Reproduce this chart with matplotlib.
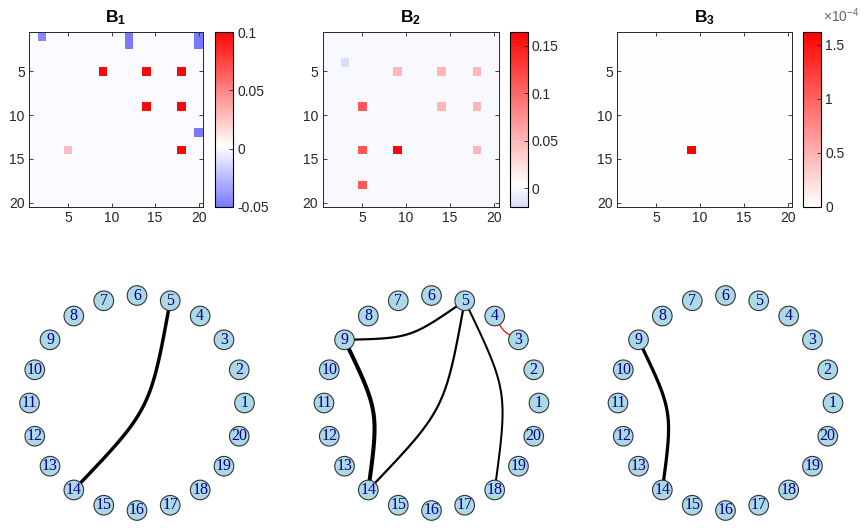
import numpy as np
import matplotlib
matplotlib.use('Agg')
import matplotlib.pyplot as plt
from matplotlib.colors import LinearSegmentedColormap, ListedColormap
from matplotlib.patches import Circle

plt.rcParams['font.family'] = ['Liberation Sans', 'DejaVu Sans']
plt.rcParams['axes.unicode_minus'] = False
plt.rcParams['mathtext.fontset'] = 'custom'
plt.rcParams['mathtext.rm'] = 'Liberation Sans'
plt.rcParams['mathtext.bf'] = 'Liberation Sans:bold'

# matrix entries (row, col, value), all other entries are 0
n_nodes = 20
titles = [r'$\mathbf{B_1}$', r'$\mathbf{B_2}$', r'$\mathbf{B_3}$']

b1_rows = [1, 1, 2, 1, 2, 12, 5, 5, 5, 9, 9, 14, 14]
b1_cols = [2, 12, 12, 20, 20, 20, 9, 14, 18, 14, 18, 18, 5]
b1_vals = [-0.045, -0.05, -0.05, -0.05, -0.05, -0.05, 0.1, 0.1, 0.1, 0.1, 0.1, 0.1, 0.028]

b2_rows = [4, 5, 5, 5, 9, 9, 9, 14, 14, 14, 18]
b2_cols = [3, 9, 14, 18, 5, 14, 18, 5, 9, 18, 5]
b2_vals = [-0.0195, 0.05, 0.05, 0.05, 0.11, 0.05, 0.05, 0.11, 0.1645, 0.05, 0.11]

b3_rows = [14]
b3_cols = [9]
b3_vals = [1.62e-4]

cbar_ticks = [[-0.05, 0, 0.05, 0.1], [0, 0.05, 0.1, 0.15], [0, 0.5e-4, 1e-4, 1.5e-4]]
cbar_labels = [['-0.05', '0', '0.05', '0.1'], ['0', '0.05', '0.1', '0.15'], ['0', '0.5', '1', '1.5']]

# network edges (from, to) and signed weights
edges_1 = [(5, 14)]
weights_1 = [0.85]
edges_2 = [(5, 9), (5, 14), (5, 18), (9, 14), (3, 4)]
weights_2 = [0.55, 0.55, 0.5, 1.0, -0.3]
edges_3 = [(9, 14)]
weights_3 = [0.8]

W, H = 864, 528
fig = plt.figure(figsize=(W / 100, H / 100), dpi=100)

def px_axes(left, top, width, height):
    return fig.add_axes([left / W, 1 - (top + height) / H, width / W, height / H])

full_cmap = LinearSegmentedColormap.from_list('bwr2', [(0, 0, 1), (1, 1, 1), (1, 0, 0)])
dark = (0.15, 0.15, 0.15)

heat_left = [29, 322.5, 617]
heat_width = [174, 176, 175]
cbar_left = [215, 509.5, 803]

mats = [(b1_rows, b1_cols, b1_vals), (b2_rows, b2_cols, b2_vals), (b3_rows, b3_cols, b3_vals)]
for k in range(3):
    rows, cols, vals = mats[k]
    M = np.zeros((n_nodes, n_nodes))
    for r, c, v in zip(rows, cols, vals):
        M[r - 1, c - 1] = v
    vmin, vmax = M.min(), M.max()
    m = max(abs(vmin), abs(vmax))
    lo, hi = (vmin / m + 1) / 2, (vmax / m + 1) / 2
    # 64 level map, zero level slightly tinted like the original
    pos = np.clip(lo + (hi - lo) * np.arange(64) / 63.5 - 0.008 * (k < 2), 0, 1)
    cm = ListedColormap(full_cmap(pos))

    ax = px_axes(heat_left[k], 32, heat_width[k], 175)
    im = ax.imshow(M, cmap=cm, vmin=vmin, vmax=vmax, extent=(0.5, 20.5, 20.5, 0.5),
                   aspect='auto', interpolation='nearest')
    ax.set_xticks([5, 10, 15, 20])
    ax.set_yticks([5, 10, 15, 20])
    ax.tick_params(direction='in', length=3, width=0.6, top=True, right=True,
                   color=dark, labelcolor=dark, labelsize=10, pad=3)
    for s in ax.spines.values():
        s.set_color(dark)
        s.set_linewidth(0.7)
    ax.set_title(titles[k], fontsize=12.5, pad=7)

    cax = px_axes(cbar_left[k], 32, 18, 175)
    cb = fig.colorbar(im, cax=cax, ticks=cbar_ticks[k])
    cb.ax.set_yticklabels(cbar_labels[k])
    cb.ax.tick_params(direction='in', length=3, width=0.6, color=dark, labelcolor=dark, labelsize=10, pad=3)
    cb.outline.set_linewidth(0.8)
    cb.outline.set_edgecolor('black')
    if k == 2:
        cax.text(1.1, 1.04, r'$\times10^{-4}$', transform=cax.transAxes, fontsize=10,
                 color=(0.4, 0.4, 0.4), ha='left', va='bottom')

# circular graphs
centers = [137, 431.5, 725.5]
R = 107.5
node_r = 9.8 / R
angles = np.arange(n_nodes) * 2 * np.pi / n_nodes
node_x = np.cos(angles)
node_y = np.sin(angles)
t = np.linspace(0, 1, 100)

for k, (edges, weights) in enumerate([(edges_1, weights_1), (edges_2, weights_2), (edges_3, weights_3)]):
    ax = px_axes(centers[k] - 135, 403 - 122, 270, 244)
    ax.set_xlim(-135 / R, 135 / R)
    ax.set_ylim(-122 / R, 122 / R)
    ax.axis('off')
    for (a, b), w in zip(edges, weights):
        x0, y0 = node_x[a - 1], node_y[a - 1]
        x1, y1 = node_x[b - 1], node_y[b - 1]
        dx, dy = x1 - x0, y1 - y0
        # cubic bezier, both handles at the bowed midpoint
        cx = (x0 + x1) / 2 - 0.15 * dy
        cy = (y0 + y1) / 2 + 0.15 * dx
        bx = (1 - t) ** 3 * x0 + 3 * (1 - t) * t * cx + t ** 3 * x1
        by = (1 - t) ** 3 * y0 + 3 * (1 - t) * t * cy + t ** 3 * y1
        color = 'red' if w < 0 else 'black'
        ax.plot(bx, by, color=color, lw=2.9 * abs(w), zorder=1, solid_capstyle='butt')
    for i in range(n_nodes):
        ax.add_patch(Circle((node_x[i], node_y[i]), node_r, facecolor='lightblue',
                            edgecolor=(0.2, 0.2, 0.2), lw=0.8, zorder=2))
        ax.text(node_x[i], node_y[i], str(i + 1), ha='center', va='center',
                fontsize=11.5, family='Liberation Serif', color='darkblue', zorder=3)

fig.savefig('out.png', dpi=100)
